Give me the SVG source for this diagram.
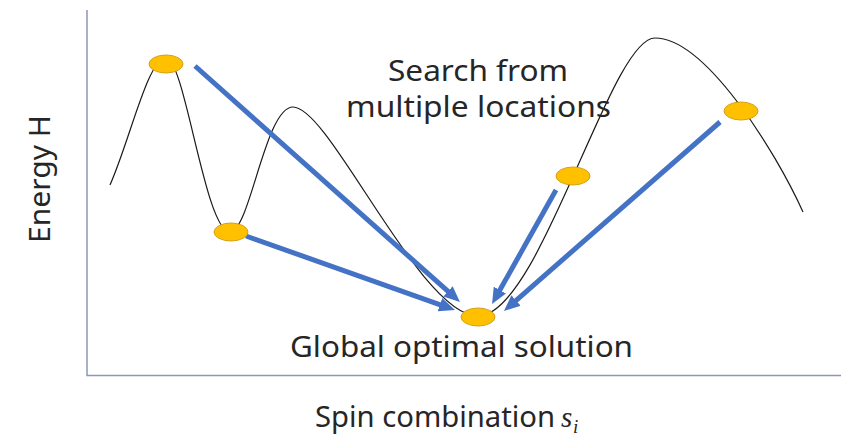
<svg xmlns="http://www.w3.org/2000/svg" width="841" height="439" viewBox="0 0 841 439">
  <style>
    .axis { fill: none; stroke: #8a99b5; stroke-width: 1.5; }
    .curve { fill: none; stroke: #1a1a1a; stroke-width: 1.2; }
    .dot { fill: #ffc000; stroke: #d4a017; stroke-width: 1; }
    .arrow { fill: none; stroke: #4472c4; stroke-width: 5; marker-end: url(#head); }
    .label { font-family: "Noto Sans", "Liberation Sans", sans-serif; font-size: 29px; fill: #262626; }
    .math { font-family: "Liberation Serif", serif; font-style: italic; fill: #262626; }
  </style>
  <defs>
    <marker id="head" viewBox="0 0 16 14" markerWidth="16" markerHeight="14" refX="2" refY="7" orient="auto" markerUnits="userSpaceOnUse">
      <path d="M0,0 L16,7 L0,14 z" fill="#4472c4"/>
    </marker>
  </defs>
  <rect width="841" height="439" fill="#ffffff"/>

  <!-- axes -->
  <g id="axes">
    <path class="axis" d="M87,10 L87,375.5 L841,375.5"/>
  </g>

  <!-- energy landscape -->
  <g id="landscape">
    <path class="curve" d="M110,185 C130,140 148,58 166,58 C185,58 205,232 230,232 C250,232 265,107 293,107 C330,107 420,316 478,316 C540,316 610,38 655,38 C705,38 775,150 803,212"/>
  </g>

  <!-- search paths -->
  <g id="connectors">
    <line class="arrow" x1="195" y1="66" x2="449.5" y2="292.7"/>
    <line class="arrow" x1="246" y1="236" x2="441.8" y2="305.3"/>
    <line class="arrow" x1="556" y1="190" x2="498.9" y2="291.8"/>
    <line class="arrow" x1="720" y1="122" x2="514.5" y2="301.8"/>
  </g>

  <!-- sample points -->
  <g id="start-1"><ellipse class="dot" cx="166" cy="64" rx="17" ry="9"/></g>
  <g id="start-2"><ellipse class="dot" cx="231" cy="232" rx="17" ry="9"/></g>
  <g id="start-3"><ellipse class="dot" cx="573" cy="176" rx="17" ry="9"/></g>
  <g id="start-4"><ellipse class="dot" cx="741" cy="111" rx="17" ry="9"/></g>
  <g id="optimum"><ellipse class="dot" cx="478" cy="317" rx="17" ry="9"/></g>

  <!-- labels -->
  <g id="labels">
    <text class="label" x="388" y="81" textLength="180" lengthAdjust="spacingAndGlyphs">Search from</text>
    <text class="label" x="346" y="117" textLength="265" lengthAdjust="spacingAndGlyphs">multiple locations</text>
    <text class="label" x="290" y="357" textLength="343" lengthAdjust="spacingAndGlyphs">Global optimal solution</text>
    <text class="label" x="315" y="427" textLength="240" lengthAdjust="spacingAndGlyphs">Spin combination</text>
    <text class="math" x="561" y="427" font-size="29">s</text>
    <text class="math" x="573" y="433" font-size="19">i</text>
    <text class="label" transform="translate(50,243) rotate(-90)" textLength="128" lengthAdjust="spacingAndGlyphs">Energy H</text>
  </g>
</svg>
